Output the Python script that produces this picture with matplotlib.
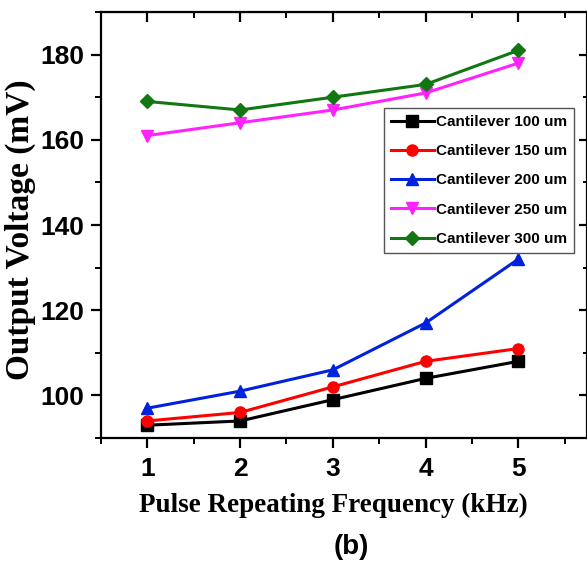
import numpy as np
import matplotlib.pyplot as plt
from matplotlib.ticker import MultipleLocator

freq = [1, 2, 3, 4, 5]
v100 = [93, 94, 99, 104, 108]
v150 = [94, 96, 102, 108, 111]
v200 = [97, 101, 106, 117, 132]
v250 = [161, 164, 167, 171, 178]
v300 = [169, 167, 170, 173, 181]
labels = ['Cantilever 100 um', 'Cantilever 150 um', 'Cantilever 200 um',
          'Cantilever 250 um', 'Cantilever 300 um']

W, H = 587, 562
fig = plt.figure(figsize=(W / 100, H / 100), dpi=100)
ax = fig.add_axes([101 / W, 1 - 438 / H, 486 / W, 426 / H])

series = [(v100, 'black', 's'), (v150, 'red', 'o'), (v200, '#0022dd', '^'),
          (v250, '#ff22ff', 'v'), (v300, '#117711', 'D')]
for (vals, col, mk), lab in zip(series, labels):
    ax.plot(freq, vals, color=col, marker=mk, markersize=8 if mk != 'D' else 7,
            linewidth=2.2, label=lab)

ax.set_xlim(0.5, 5.74)
ax.set_ylim(90, 190)
ax.xaxis.set_major_locator(MultipleLocator(1))
ax.xaxis.set_minor_locator(MultipleLocator(0.5))
ax.yaxis.set_minor_locator(MultipleLocator(10))
ax.set_yticks([100, 120, 140, 160, 180])

for s in ax.spines.values():
    s.set_linewidth(1.6)
ax.tick_params(which='major', direction='out', length=7, width=1.6,
               labelsize=19)
ax.tick_params(axis='x', which='major', pad=7)
ax.tick_params(axis='y', which='major', pad=5)
ax.tick_params(which='minor', direction='out', length=4, width=1.4)
for t in ax.get_xticklabels() + ax.get_yticklabels():
    t.set_fontweight('bold')
    t.set_family('Liberation Sans')

# mirrored ticks on top and right, pointing inward
top = ax.secondary_xaxis('top')
top.set_xticks([1, 2, 3, 4, 5])
top.xaxis.set_minor_locator(MultipleLocator(0.5))
top.tick_params(which='major', direction='in', length=7, width=1.6, labeltop=False)
top.tick_params(which='minor', direction='in', length=4, width=1.4)
right = ax.secondary_yaxis('right')
right.set_yticks([100, 120, 140, 160, 180])
right.yaxis.set_minor_locator(MultipleLocator(10))
right.tick_params(which='major', direction='in', length=6, width=1.6, labelright=False)
right.tick_params(which='minor', direction='in', length=3, width=1.4)

ax.set_xlabel('Pulse Repeating Frequency (kHz)', family='Liberation Serif',
              fontweight='bold', fontsize=19.5)
ax.xaxis.set_label_coords((333 - 101) / 486, -(493 - 438) / 426)
ax.set_ylabel('Output Voltage (mV)', family='Liberation Serif',
              fontweight='bold', fontsize=24)
ax.yaxis.set_label_coords(-(101 - 36) / 486, (438 - 230) / 426)

leg = ax.legend(loc='upper left', bbox_to_anchor=(384 / W, 1 - 108 / H),
                bbox_transform=fig.transFigure, frameon=True, fancybox=False,
                edgecolor='#555555', framealpha=1, handlelength=2.8,
                handletextpad=0.15, labelspacing=1.0, borderpad=0.45,
                borderaxespad=0, prop={'family': 'Liberation Sans',
                                       'weight': 'bold', 'size': 11})
leg.get_frame().set_linewidth(1.0)

fig.text(351 / W, 1 - 547 / H, '(b)', ha='center', va='center',
         family='Liberation Sans', fontweight='bold', fontsize=20)

fig.savefig('out.png', dpi=100)
